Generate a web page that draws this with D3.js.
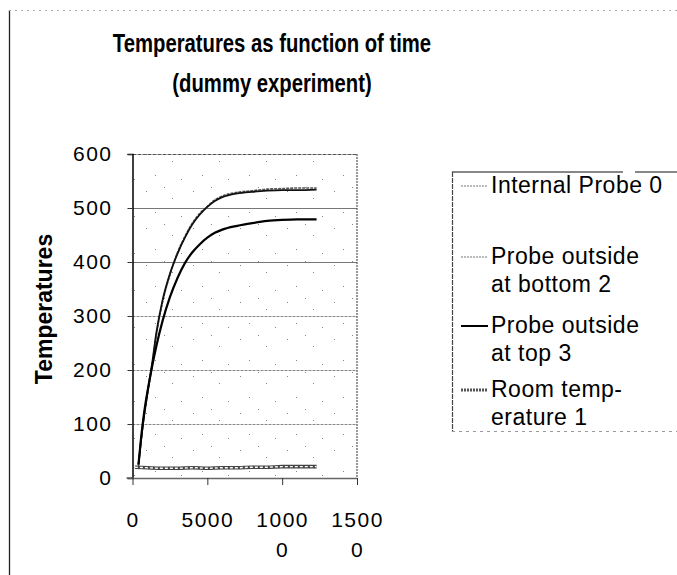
<!DOCTYPE html>
<html>
<head>
<meta charset="utf-8">
<script src="https://cdn.jsdelivr.net/npm/d3@7"></script>
<style>
  html, body { margin: 0; padding: 0; background: #fff; }
  svg { display: block; font-family: "Liberation Sans", Arial, Helvetica, sans-serif; }
</style>
</head>
<body>
<svg id="chart" width="677" height="575"></svg>
<script>
// Sample times (s) shared by the three probe series
const probeTimes = [400, 550, 700, 850, 1000, 1300, 1600, 2000, 2500, 3000, 3500,
                    4000, 4500, 5000, 5500, 6000, 7000, 8000, 9000, 10000, 11000, 12300];
const internalProbe0 = [25, 65, 100, 130, 158, 210, 270, 328, 378, 415, 445,
                        470, 488, 502, 513, 520, 527, 530, 532, 533, 533, 534];
const probeBottom2   = [22, 62, 98, 128, 155, 207, 266, 325, 376, 417, 447,
                        472, 490, 503, 515, 522, 529, 532, 535, 536, 537, 537];
const probeTop3      = [25, 68, 105, 135, 160, 205, 245, 290, 335, 370, 398,
                        418, 433, 445, 454, 460, 467, 472, 476, 478, 479, 479];
// Room temperature is logged from an earlier start
const roomTimes = [160, 1000, 2000, 3000, 4000, 5000, 6000, 7000, 8000, 9000, 10000, 11000, 12300];
const roomTemp1 = [20, 19, 18, 18, 19, 18, 19, 19, 20, 20, 21, 21, 21];

const yTicks = [0, 100, 200, 300, 400, 500, 600];
const xTicks = [0, 5000, 10000, 15000];
const xTickLabels = [["0"], ["5000"], ["1000", "0"], ["1500", "0"]];

const titleLines = ["Temperatures as function of time", "(dummy experiment)"];
const yAxisTitle = "Temperatures";
const legendLabels = [
  ["Internal Probe 0"],
  ["Probe outside", "at bottom 2"],
  ["Probe outside", "at top 3"],
  ["Room temp-", "erature 1"]
];

const svg = d3.select("#chart");
const FONT = "'Liberation Sans', Arial, Helvetica, sans-serif";

// Plot geometry
const x = d3.scaleLinear().domain([0, 15000]).range([132.5, 357]);
const y = d3.scaleLinear().domain([0, 600]).range([478, 154]);

// Outer chart frame (left and top edges)
svg.append("line").attr("x1", 9.5).attr("x2", 9.5).attr("y1", 10).attr("y2", 575)
  .attr("stroke", "#222").attr("stroke-width", 1.3);
svg.append("line").attr("x1", 9).attr("x2", 677).attr("y1", 10.5).attr("y2", 10.5)
  .attr("stroke", "#aaa").attr("stroke-width", 1).attr("stroke-dasharray", "2,4");

// Title: bold, condensed
svg.append("g").attr("transform", "translate(272,0) scale(0.78,1)")
  .append("text")
  .attr("text-anchor", "middle")
  .attr("font-size", 26).attr("font-weight", "bold").attr("fill", "#000")
  .selectAll("tspan").data(titleLines).join("tspan")
  .attr("x", 0).attr("y", (d, i) => 52 + i * 40)
  .text(d => d);

// Sparse speckled plot background
const defs = svg.append("defs");
const pat = defs.append("pattern").attr("id", "speckle")
  .attr("patternUnits", "userSpaceOnUse").attr("width", 47).attr("height", 37);
[[5, 6], [31, 13], [14, 27], [40, 31], [23, 2]].forEach(([px, py]) => {
  pat.append("rect").attr("x", px).attr("y", py).attr("width", 1).attr("height", 1).attr("fill", "#888");
});
svg.append("rect")
  .attr("x", x(0)).attr("y", y(600))
  .attr("width", x(15000) - x(0)).attr("height", y(0) - y(600))
  .attr("fill", "url(#speckle)");

// Horizontal gridlines
svg.append("g").selectAll("line").data(yTicks.filter(v => v > 0 && v < 600)).join("line")
  .attr("x1", x(0)).attr("x2", x(15000))
  .attr("y1", d => y(d) + 0.5).attr("y2", d => y(d) + 0.5)
  .attr("stroke", d => d >= 400 ? "#777" : "#888").attr("stroke-width", 1)
  .attr("stroke-dasharray", d => d >= 400 ? null : "3,1");

// Plot border: top and right
svg.append("line").attr("x1", x(0)).attr("x2", x(15000)).attr("y1", y(600) + 0.5).attr("y2", y(600) + 0.5)
  .attr("stroke", "#555").attr("stroke-width", 1).attr("stroke-dasharray", "4,1");
svg.append("line").attr("x1", x(15000)).attr("x2", x(15000)).attr("y1", y(600)).attr("y2", y(0))
  .attr("stroke", "#555").attr("stroke-width", 1.2).attr("stroke-dasharray", "2,1");

// Axes
const yAxis = svg.append("g").attr("transform", `translate(${x(0)},0)`)
  .call(d3.axisLeft(y).tickValues(yTicks).tickSize(5).tickPadding(15).tickFormat(d3.format("d")));
yAxis.select(".domain").attr("stroke", "#000").attr("stroke-width", 1.5);
yAxis.selectAll(".tick line").attr("stroke", "#333");
yAxis.selectAll(".tick text").attr("font-size", 21).attr("fill", "#000")
  .attr("font-family", FONT).attr("letter-spacing", 1.5);

const xAxis = svg.append("g").attr("transform", `translate(0,${y(0)})`)
  .call(d3.axisBottom(x).tickValues(xTicks).tickSize(7).tickSizeOuter(0));
xAxis.select(".domain").attr("stroke", "#666").attr("stroke-width", 1.5);
xAxis.selectAll(".tick line").attr("stroke", "#333");
xAxis.selectAll(".tick text").each(function (d, i) {
  const t = d3.select(this).attr("y", 0).attr("dy", null)
    .attr("font-size", 21).attr("fill", "#000").attr("letter-spacing", 1.5)
    .attr("font-family", FONT).text(null);
  xTickLabels[i].forEach((s, k) => {
    t.append("tspan").attr("x", 0).attr("y", 49 + k * 30).text(s);
  });
});
// short stub of the x axis left of the y axis
svg.append("line").attr("x1", x(0) - 6).attr("x2", x(0)).attr("y1", y(0)).attr("y2", y(0))
  .attr("stroke", "#666").attr("stroke-width", 1.5);

// Y axis title
svg.append("text")
  .attr("transform", "translate(52,309) rotate(-90)")
  .attr("text-anchor", "middle")
  .attr("font-size", 23).attr("font-weight", "bold").attr("fill", "#000")
  .text(yAxisTitle);

// Series (bottom probe drawn first so the internal probe sits on top)
const line = d3.line().x(d => x(d[0])).y(d => y(d[1])).curve(d3.curveMonotoneX);
const zip = (ts, vs) => ts.map((t, i) => [t, vs[i]]);

const series = [
  { data: zip(probeTimes, probeBottom2),   stroke: "#555", width: 1.6, dash: "3,1" },
  { data: zip(probeTimes, internalProbe0), stroke: "#111", width: 1.8, dash: null },
  { data: zip(probeTimes, probeTop3),      stroke: "#000", width: 2.2, dash: null }
];
const gSeries = svg.append("g");
gSeries.selectAll("path.probe").data(series).join("path").attr("class", "probe")
  .attr("d", d => line(d.data))
  .attr("fill", "none")
  .attr("stroke", d => d.stroke)
  .attr("stroke-width", d => d.width)
  .attr("stroke-dasharray", d => d.dash);

// Room temperature: hatched band
const roomPath = line(zip(roomTimes, roomTemp1));
gSeries.append("path").attr("d", roomPath).attr("fill", "none")
  .attr("stroke", "#444").attr("stroke-width", 3.6);
gSeries.append("path").attr("d", roomPath).attr("fill", "none")
  .attr("stroke", "#fff").attr("stroke-width", 1.4).attr("stroke-dasharray", "3,2");

// Legend
const lg = svg.append("g");
lg.append("line").attr("x1", 452).attr("x2", 623).attr("y1", 172).attr("y2", 172).attr("stroke", "#111").attr("stroke-width", 1.2);
lg.append("line").attr("x1", 635).attr("x2", 677).attr("y1", 172).attr("y2", 172).attr("stroke", "#111").attr("stroke-width", 1.2);
lg.append("line").attr("x1", 452.5).attr("x2", 452.5).attr("y1", 172).attr("y2", 432).attr("stroke", "#444").attr("stroke-width", 1.2).attr("stroke-dasharray", "5,1");
lg.append("line").attr("x1", 452).attr("x2", 677).attr("y1", 431.5).attr("y2", 431.5).attr("stroke", "#999").attr("stroke-width", 1).attr("stroke-dasharray", "3,4");

const legendStyles = [
  { stroke: "#777", width: 1, dash: "2,1" },
  { stroke: "#777", width: 1, dash: "2,1" },
  { stroke: "#000", width: 2, dash: null },
  { stroke: "#555", width: 3, dash: "2,1" }
];
const itemBaselines = [193, 264, 333, 397];
const legendItems = lg.selectAll("g.item").data(legendLabels).join("g").attr("class", "item");
legendItems.append("line")
  .attr("x1", 461).attr("x2", 488)
  .attr("y1", (d, i) => itemBaselines[i] - 7).attr("y2", (d, i) => itemBaselines[i] - 7)
  .attr("stroke", (d, i) => legendStyles[i].stroke)
  .attr("stroke-width", (d, i) => legendStyles[i].width)
  .attr("stroke-dasharray", (d, i) => legendStyles[i].dash);
legendItems.append("text")
  .attr("font-size", 23).attr("fill", "#000").attr("letter-spacing", 0.5)
  .each(function (d, i) {
    d3.select(this).selectAll("tspan").data(d).join("tspan")
      .attr("x", 491).attr("y", (s, k) => itemBaselines[i] + k * 28)
      .text(s => s);
  });
</script>
</body>
</html>
